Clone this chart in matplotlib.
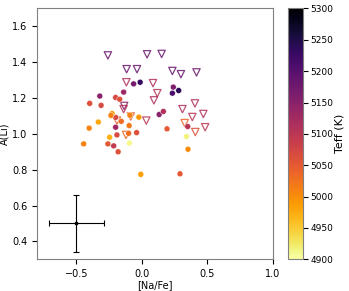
import numpy as np
import matplotlib
matplotlib.use('Agg')
import matplotlib.pyplot as plt
from matplotlib.colors import Normalize

# detections (filled circles)
na_det = [-0.013, -0.063, 0.281, 0.240, 0.233, -0.321, -0.139, 0.132, 0.164, -0.200,
          0.350, -0.398, -0.311, -0.200, -0.169, -0.200, -0.190, -0.215, -0.181, -0.040,
          -0.259, 0.192, 0.291, -0.227, -0.236, -0.157, -0.402, -0.444, -0.091, -0.097,
          -0.101, 0.352, -0.023, -0.332, -0.246, -0.008, -0.095, 0.340]
li_det = [1.288, 1.279, 1.242, 1.261, 1.227, 1.211, 1.233, 1.108, 1.125, 1.037,
          1.041, 1.170, 1.159, 1.203, 1.193, 1.092, 0.994, 0.933, 0.900, 1.007,
          0.944, 1.028, 0.777, 1.113, 1.103, 1.070, 1.032, 0.944, 1.104, 1.046,
          1.003, 0.914, 1.093, 1.066, 0.981, 0.774, 0.948, 0.985]
teff_det = [5230, 5170, 5240, 5160, 5210, 5150, 5130, 5150, 5110, 5130,
            5100, 5060, 5070, 5070, 5060, 5070, 5070, 5090, 5060, 5060,
            5050, 5050, 5050, 4990, 5010, 5030, 5010, 5010, 5010, 5020,
            5030, 5000, 4990, 4975, 4970, 4985, 4910, 4915]

# upper limits (open triangles)
na_lim = [-0.259, 0.040, 0.151, -0.116, -0.037, 0.233, 0.298, 0.417, -0.118, 0.085,
          0.118, 0.092, -0.135, -0.139, -0.190, -0.085, 0.034, -0.121, 0.310, 0.405,
          0.385, 0.469, 0.327, 0.408, 0.483]
li_lim = [1.438, 1.444, 1.446, 1.361, 1.361, 1.351, 1.333, 1.343, 1.288, 1.283,
          1.227, 1.187, 1.156, 1.138, 1.074, 1.097, 1.074, 0.994, 1.138, 1.170,
          1.094, 1.111, 1.060, 1.010, 1.037]
teff_lim = [5180, 5180, 5180, 5180, 5180, 5180, 5180, 5180, 5110, 5110,
            5100, 5110, 5150, 5110, 5040, 5040, 5100, 5030, 5110, 5110,
            5100, 5110, 5040, 5060, 5100]

# typical error
err_x, err_y = -0.5, 0.5
err_na, err_li = 0.21, 0.16

plt.rcParams['font.size'] = 7
cmap = plt.get_cmap('inferno_r')
norm = Normalize(vmin=4900, vmax=5300)

fig = plt.figure(figsize=(3.49, 2.91), dpi=100)
ax = fig.add_axes([0.106, 0.109, 0.676, 0.862])
cax = fig.add_axes([0.824, 0.109, 0.043, 0.862])

ax.scatter(na_lim, li_lim, marker='v', s=28, facecolors='none',
           edgecolors=cmap(norm(teff_lim)), linewidths=0.9, alpha=0.85, zorder=2)
sc = ax.scatter(na_det, li_det, c=teff_det, cmap=cmap, norm=norm, marker='o', s=18,
                edgecolors='white', linewidths=0.3, zorder=3)

ax.errorbar(err_x, err_y, xerr=err_na, yerr=err_li, fmt='s', color='k', ms=2,
            elinewidth=0.8, capsize=2, capthick=0.8)

ax.set_xlim(-0.8, 1.0)
ax.set_ylim(0.3, 1.7)
ax.set_xticks([-0.5, 0.0, 0.5, 1.0])
ax.set_yticks([0.4, 0.6, 0.8, 1.0, 1.2, 1.4, 1.6])
ax.set_xlabel('[Na/Fe]', labelpad=1)
ax.set_ylabel('A(Li)', labelpad=2)
for s in ax.spines.values():
    s.set_color('#808080')

cb = fig.colorbar(sc, cax=cax)
cb.ax.tick_params(labelsize=6.5, pad=2)
cb.set_label('Teff (K)', fontsize=8, labelpad=1)
cb.outline.set_edgecolor('#808080')
cb.set_ticks([4900, 4950, 5000, 5050, 5100, 5150, 5200, 5250, 5300])

fig.savefig('out.png', dpi=100)
